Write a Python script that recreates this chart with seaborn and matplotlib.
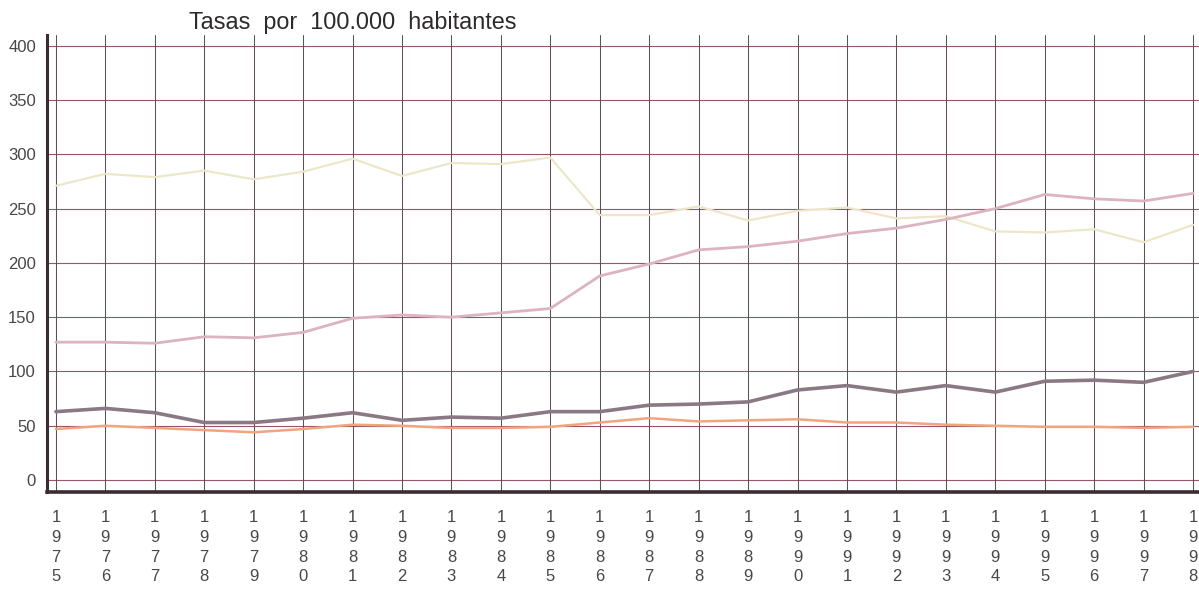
import matplotlib
matplotlib.use("Agg")
import matplotlib.pyplot as plt
import pandas as pd
import seaborn as sns

# ------------------------------
# Datos
# ------------------------------
anios = list(range(1975, 1999))
serie_crema = [271, 282, 279, 285, 277, 284, 296, 280, 292, 291, 297, 244,
               244, 252, 239, 248, 251, 241, 243, 229, 228, 231, 219, 235]
serie_rosa = [127, 127, 126, 132, 131, 136, 149, 152, 150, 154, 158, 188,
              199, 212, 215, 220, 227, 232, 240, 250, 263, 259, 257, 264]
serie_gris = [63, 66, 62, 53, 53, 57, 62, 55, 58, 57, 63, 63,
              69, 70, 72, 83, 87, 81, 87, 81, 91, 92, 90, 100]
serie_naranja = [47, 50, 48, 46, 44, 47, 51, 50, 48, 48, 49, 53,
                 57, 54, 55, 56, 53, 53, 51, 50, 49, 49, 48, 49]
y_ticks = [0, 50, 100, 150, 200, 250, 300, 350, 400]
titulo = "Tasas  por  100.000  habitantes"

df = pd.DataFrame({
    "anio": anios * 4,
    "tasa": serie_crema + serie_rosa + serie_gris + serie_naranja,
    "serie": ["crema"] * 24 + ["rosa"] * 24 + ["gris"] * 24 + ["naranja"] * 24,
})

sns.set_style("white")
plt.rcParams["font.family"] = ["Liberation Sans", "DejaVu Sans"]

fig = plt.figure(figsize=(11.99, 5.91), dpi=100)
ax = fig.add_axes([0.0392, 0.1675, 0.9608, 0.7735])

# color y grosor de cada serie
estilos = {
    "crema": ("#ede7c9", 1.6),
    "rosa": ("#dbb3c1", 2.0),
    "gris": ("#8a7984", 2.6),
    "naranja": ("#f1a47e", 1.8),
}
for nombre, (color, lw) in estilos.items():
    sns.lineplot(data=df[df["serie"] == nombre], x="anio", y="tasa",
                 color=color, linewidth=lw, ax=ax, zorder=3)

ax.set_xlim(1974.82, 1998.12)
ax.set_ylim(-11, 410)
ax.set_yticks(y_ticks)
ax.set_xticks(anios)
ax.set_xticklabels(["\n".join(str(a)) for a in anios], linespacing=1.4)
ax.tick_params(axis="both", length=0, labelsize=12, labelcolor="#4a4648")
ax.tick_params(axis="x", pad=13)
ax.tick_params(axis="y", pad=8)
ax.set_xlabel("")
ax.set_ylabel("")

# cuadrícula a mano
ax.grid(False)
for y in y_ticks:
    ax.axhline(y, color="#95566a", linewidth=0.8, zorder=1)
for a in anios:
    ax.axvline(a, color="#5e5056", linewidth=0.75, zorder=1)

for lado in ["top", "right"]:
    ax.spines[lado].set_visible(False)
ax.spines["left"].set_color("#3b2c32")
ax.spines["left"].set_linewidth(2.2)
ax.spines["bottom"].set_color("#3b2c32")
ax.spines["bottom"].set_linewidth(2.6)

fig.text(353 / 1199, 1 - 23 / 591, titulo, ha="center", va="center",
         fontsize=16.8, color="#2e2a2c")

plt.savefig("out.png", dpi=100)
plt.close()
